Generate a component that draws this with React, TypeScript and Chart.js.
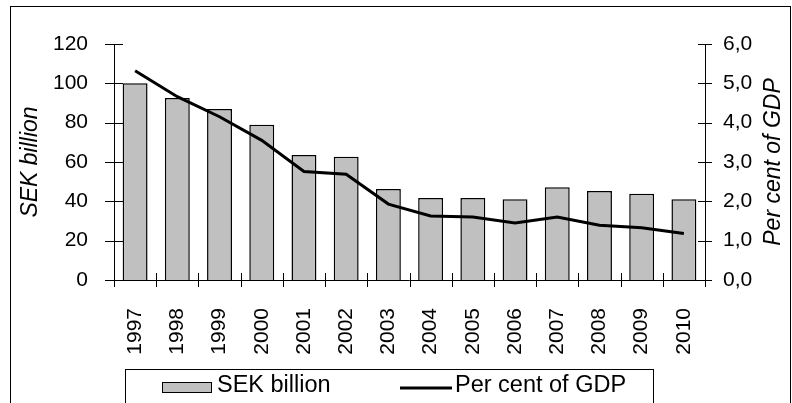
import React, { useEffect, useRef } from "react";
import { Chart, registerables } from "chart.js";

Chart.register(...registerables);

const years = ["1997", "1998", "1999", "2000", "2001", "2002", "2003", "2004", "2005", "2006", "2007", "2008", "2009", "2010"];
const sekBillion = [100, 92.5, 87, 79, 63.5, 62.7, 46.3, 41.7, 41.7, 41, 47.2, 45.3, 43.8, 41];
const perCentOfGdp = [5.32, 4.66, 4.15, 3.55, 2.76, 2.69, 1.93, 1.63, 1.6, 1.45, 1.6, 1.39, 1.33, 1.18];
const leftTitle = "SEK billion";
const rightTitle = "Per cent of GDP";

const FONT = "'Liberation Sans', Arial, sans-serif";
const BAR_FILL = "#c0c0c0";

const decorPlugin = {
  id: "decor",
  afterDraw(chart: any) {
    const ctx = chart.ctx;
    const { left, right, top, bottom } = chart.chartArea;
    const y = chart.scales.y;
    const y1 = chart.scales.y1;
    ctx.save();
    ctx.strokeStyle = "#000";
    ctx.lineWidth = 1;
    ctx.beginPath();
    ctx.moveTo(Math.round(left) + 0.5, top);
    ctx.lineTo(Math.round(left) + 0.5, bottom);
    ctx.moveTo(Math.round(right) + 0.5, top);
    ctx.lineTo(Math.round(right) + 0.5, bottom);
    ctx.moveTo(left, Math.round(bottom) + 0.5);
    ctx.lineTo(right, Math.round(bottom) + 0.5);
    y.ticks.forEach((t: any) => {
      const py = Math.round(y.getPixelForValue(t.value)) + 0.5;
      ctx.moveTo(left - 9, py);
      ctx.lineTo(left + 9, py);
    });
    y1.ticks.forEach((t: any) => {
      const py = Math.round(y1.getPixelForValue(t.value)) + 0.5;
      ctx.moveTo(right - 7, py);
      ctx.lineTo(right + 7, py);
    });
    const n = years.length;
    for (let i = 0; i <= n; i++) {
      const px = Math.round(left + (i * (right - left)) / n) + 0.5;
      ctx.moveTo(px, bottom - 7);
      ctx.lineTo(px, bottom + 7);
    }
    ctx.stroke();

    ctx.fillStyle = "#000";
    ctx.font = `italic 23px ${FONT}`;
    ctx.textAlign = "center";
    ctx.textBaseline = "alphabetic";
    const midY = (top + bottom) / 2;
    ctx.save();
    ctx.translate(37, midY);
    ctx.rotate(-Math.PI / 2);
    ctx.fillText(leftTitle, 0, 0);
    ctx.restore();
    ctx.save();
    ctx.translate(780, midY);
    ctx.rotate(-Math.PI / 2);
    ctx.fillText(rightTitle, 0, 0);
    ctx.restore();

    ctx.lineWidth = 1;
    ctx.strokeRect(125.5, 369.5, 528, 60);
    ctx.fillStyle = BAR_FILL;
    ctx.fillRect(162, 382, 50, 10);
    ctx.strokeRect(162.5, 382.5, 49, 10);
    ctx.fillStyle = "#000";
    ctx.font = `23.5px ${FONT}`;
    ctx.textAlign = "left";
    ctx.fillText(chart.data.datasets[0].label, 217, 392);
    ctx.lineWidth = 3;
    ctx.beginPath();
    ctx.moveTo(400, 388);
    ctx.lineTo(452, 388);
    ctx.stroke();
    ctx.fillText(chart.data.datasets[1].label, 455, 392);

    ctx.lineWidth = 1;
    ctx.strokeRect(10.5, 6.5, 780, 420);
    ctx.restore();
  },
};

export default function App() {
  const ref = useRef<HTMLCanvasElement>(null);
  useEffect(() => {
    const canvas = ref.current!;
    const chart = new Chart(canvas, {
      type: "bar",
      data: {
        labels: years,
        datasets: [
          {
            type: "bar",
            label: leftTitle,
            data: sekBillion,
            backgroundColor: BAR_FILL,
            borderColor: "#000",
            borderWidth: 1.5,
            yAxisID: "y",
            order: 1,
            categoryPercentage: 1,
            barPercentage: 0.59,
          },
          {
            type: "line",
            label: rightTitle,
            data: perCentOfGdp,
            borderColor: "#000",
            borderWidth: 3,
            pointRadius: 0,
            tension: 0,
            fill: false,
            yAxisID: "y1",
            order: 0,
          } as any,
        ],
      },
      options: {
        responsive: false,
        animation: false,
        devicePixelRatio: 1,
        layout: { padding: { top: 44, left: 0, right: 0, bottom: 0 } },
        plugins: { legend: { display: false }, tooltip: { enabled: false } },
        scales: {
          x: {
            offset: true,
            grid: { display: false, drawTicks: false },
            border: { display: false },
            ticks: {
              minRotation: 90,
              maxRotation: 90,
              autoSkip: false,
              padding: 28,
              color: "#000",
              font: { family: FONT, size: 21 },
            },
            afterFit: (s: any) => {
              s.height = 123;
            },
          },
          y: {
            position: "left",
            min: 0,
            max: 120,
            grid: { display: false, drawTicks: false },
            border: { display: false },
            ticks: {
              stepSize: 20,
              padding: 26,
              color: "#000",
              font: { family: FONT, size: 21 },
            },
            afterFit: (s: any) => {
              s.width = 114;
            },
          },
          y1: {
            position: "right",
            min: 0,
            max: 6,
            grid: { display: false, drawTicks: false },
            border: { display: false },
            ticks: {
              stepSize: 1,
              padding: 18,
              color: "#000",
              font: { family: FONT, size: 21 },
              callback: (v: any) => Number(v).toFixed(1).replace(".", ","),
            },
            afterFit: (s: any) => {
              s.width = 87;
            },
          },
        },
      },
      plugins: [decorPlugin],
    });
    return () => chart.destroy();
  }, []);
  return (
    <div style={{ position: "fixed", left: 0, top: 0, width: 792, height: 403, background: "#fff" }}>
      <canvas ref={ref} width={792} height={403} style={{ display: "block" }} />
    </div>
  );
}
